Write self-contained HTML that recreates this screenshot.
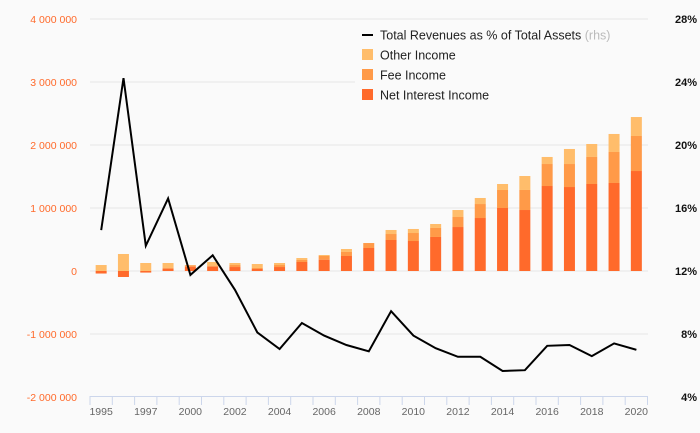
<!DOCTYPE html>
<html><head><meta charset="utf-8"><style>
body{margin:0;background:#fafafa;}
svg{display:block;font-family:"Liberation Sans",sans-serif;}
</style></head><body>
<svg id="chart" width="700" height="433" viewBox="0 0 700 433">
<rect width="700" height="433" fill="#fafafa"/>
<g id="grid"></g><g id="bars"></g><g id="line"></g><g id="axes"></g>
<g id="legend">
<rect x="355" y="24" width="300" height="82" fill="#fafafa"/>
<line x1="362" y1="35" x2="373" y2="35" stroke="#000" stroke-width="2"/>
<text x="380" y="39.5" font-size="12.5" fill="#222">Total Revenues as % of Total Assets <tspan fill="#bbb">(rhs)</tspan></text>
<rect x="362" y="49" width="11" height="11" fill="#ffbd6b"/>
<text x="380" y="59.5" font-size="12.5" fill="#222">Other Income</text>
<rect x="362" y="69" width="11" height="11" fill="#ff9a48"/>
<text x="380" y="79.5" font-size="12.5" fill="#222">Fee Income</text>
<rect x="362" y="89" width="11" height="11" fill="#ff6a2b"/>
<text x="380" y="99.5" font-size="12.5" fill="#222">Net Interest Income</text>
</g>
</svg>
<script>
const categories=["1995","1996","1997","1999","2000","2001","2002","2003","2004","2005","2006","2007","2008","2009","2010","2011","2012","2013","2014","2015","2016","2017","2018","2019","2020"];
const tickLabels=["1995","1997","2000","2002","2004","2006","2008","2010","2012","2014","2016","2018","2020"];
const netInterest=[-40,-95,-25,37,69,69,63,32,63,143,180,238,365,492,476,540,698,841,1000,968,1349,1333,1381,1397,1587];
const feeIncome=[0,0,0,16,21,16,32,16,32,32,58,64,79,95,127,143,159,222,286,318,349,365,429,492,556];
const otherIncome=[95,270,127,74,5,58,32,63,32,31,16,47,0,64,64,63,111,96,95,222,112,239,206,286,301];
const revPct=[14.6,24.25,13.6,16.6,11.75,13.0,10.8,8.1,7.05,8.7,7.9,7.3,6.9,9.45,7.9,7.1,6.55,6.55,5.65,5.7,7.25,7.3,6.6,7.4,7.0];
const leftTicks=[4000,3000,2000,1000,0,-1000,-2000];
const leftTickLabels=["4 000 000","3 000 000","2 000 000","1 000 000","0","-1 000 000","-2 000 000"];
const rightTicks=[28,24,20,16,12,8,4];
const NS="http://www.w3.org/2000/svg";
const x0=90,step=22.3;
function xc(i){return x0+step*(i+0.5);}
function yL(v){return 271-v*0.063;}
function yR(p){return 271-(p-12)*15.75;}
function mk(tag,attrs,parent){const e=document.createElementNS(NS,tag);for(const k in attrs)e.setAttribute(k,attrs[k]);parent.appendChild(e);return e;}
const grid=document.getElementById('grid'),bars=document.getElementById('bars'),line=document.getElementById('line'),axes=document.getElementById('axes');
leftTicks.forEach((t,i)=>{
  if(t!==-2000){const g=mk('line',{x1:x0,x2:648,y1:yL(t),y2:yL(t),stroke:'#e6e6e6','stroke-width':1},grid);
  
  }
  const tx=mk('text',{x:77,y:yL(t)+4,'text-anchor':'end','font-size':10.5,fill:'#ff6a2b'},axes);
  tx.textContent=leftTickLabels[i];
  
  
});
rightTicks.forEach(p=>{
  const tx=mk('text',{x:697,y:yR(p)+4,'text-anchor':'end','font-size':11,'font-weight':'bold',fill:'#111'},axes);
  tx.textContent=p+'%';
  
  
});
const bw=11;
categories.forEach((c,i)=>{
  let pos=0;
  const n=netInterest[i];
  const segs=[[n,'#ff6a2b','bar-net-interest'],[feeIncome[i],'#ff9a48','bar-fee'],[otherIncome[i],'#ffbd6b','bar-other']];
  segs.forEach(([v,col,name],k)=>{
    if(v===0)return;
    let y1,y2;
    if(v<0){y1=yL(0);y2=yL(v);}else{y1=yL(pos+v);y2=yL(pos);pos+=v;}
    const r=mk('rect',{x:xc(i)-bw/2,y:y1,width:bw,height:Math.max(0,y2-y1),fill:col},bars);
    
    
  });
});
const pts=revPct.map((p,i)=>xc(i).toFixed(1)+','+yR(p).toFixed(1)).join(' ');
const pl=mk('polyline',{points:pts,fill:'none',stroke:'#000','stroke-width':2,'stroke-linejoin':'miter'},line);


const ax=mk('line',{x1:x0,x2:x0+step*25,y1:396.5,y2:396.5,stroke:'#ccd6eb','stroke-width':1},axes);


for(let i=0;i<=25;i++){const t=mk('line',{x1:x0+step*i,x2:x0+step*i,y1:396,y2:405,stroke:'#ccd6eb','stroke-width':1},axes);

}
tickLabels.forEach((l,j)=>{
  const tx=mk('text',{x:xc(j*2),y:415,'text-anchor':'middle','font-size':10.5,fill:'#666'},axes);
  tx.textContent=l;
  
  
});
</script>
</body></html>
